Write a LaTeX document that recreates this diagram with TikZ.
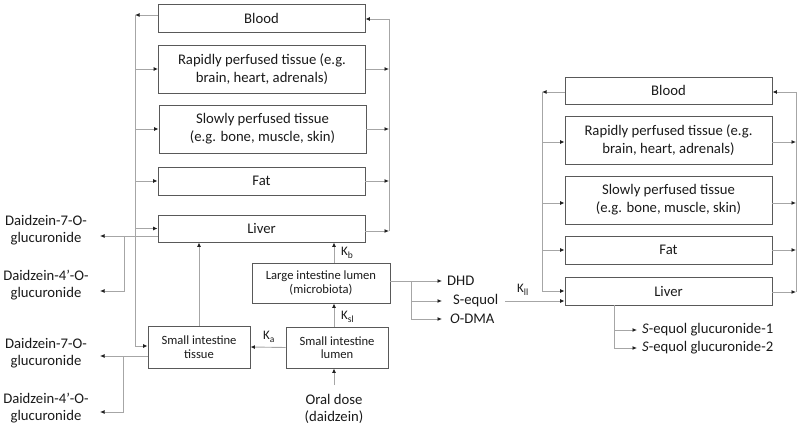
\documentclass[tikz,border=0pt]{standalone}
\usepackage{fontspec}
\setmainfont{Carlito}
\usetikzlibrary{arrows.meta,calc}
\definecolor{boxc}{HTML}{595959}
\definecolor{linec}{HTML}{A6A6A6}
\definecolor{tipc}{HTML}{202020}
\definecolor{txtc}{HTML}{1A1A1A}
\newcommand{\ksubx}[1]{\raisebox{-2.4pt}{\fontsize{9.5}{10}\selectfont #1}}
\begin{document}
\begin{tikzpicture}[x=1pt,y=-1pt,
  box/.style={draw=boxc, line width=0.9pt, minimum width=207pt, align=center, inner sep=0pt, text=txtc, font=\fontsize{14.7}{18}\selectfont},
  sbox/.style={draw=boxc, line width=0.9pt, align=center, inner sep=0pt, text=txtc, font=\fontsize{12.6}{13.5}\selectfont},
  conn/.style={draw=linec, line width=0.9pt},
  arr/.style={conn, -{Latex[length=4.5pt,width=4pt,color=tipc]}},
  lbl/.style={font=\fontsize{14.7}{17}\selectfont, align=center, inner sep=0pt, text=txtc},
  klbl/.style={font=\fontsize{13}{14}\selectfont, inner sep=0pt, anchor=west, text=txtc}
]
\useasboundingbox (0,0) rectangle (800,427);

% left group
\node[box, minimum height=28pt] (blood) at (261.5,18) {Blood};
\node[box, minimum height=48pt] (rapid) at (262,69) {Rapidly perfused tissue (e.g.\\brain, heart, adrenals)};
\node[box, minimum height=48pt] (slow) at (262.5,129) {Slowly perfused tissue\\(e.g. bone, muscle, skin)};
\node[box, minimum height=28pt] (fat) at (261.5,181) {Fat};
\node[box, minimum height=27pt] (liver) at (261.5,228.5) {Liver};

% right group
\node[box, minimum height=27pt] (blood2) at (668.5,90.5) {Blood};
\node[box, minimum height=48pt] (rapid2) at (668.5,140) {Rapidly perfused tissue (e.g.\\brain, heart, adrenals)};
\node[box, minimum height=48pt] (slow2) at (668.5,200) {Slowly perfused tissue\\(e.g. bone, muscle, skin)};
\node[box, minimum height=28pt] (fat2) at (668.5,250) {Fat};
\node[box, minimum height=28pt] (liver2) at (668.5,291) {Liver};

% intestine
\node[sbox, minimum width=102pt, minimum height=42pt] (sit) at (199,347) {Small intestine\\tissue};
\node[sbox, minimum width=138pt, minimum height=40pt] (lil) at (321,283) {Large intestine lumen\\(microbiota)};
\node[sbox, minimum width=102pt, minimum height=41pt] (sil) at (337,347.5) {Small intestine\\lumen};
\node[lbl] (oral) at (334,409) {Oral dose\\(daidzein)};

% metabolite texts
\node[lbl] (d1) at (46,230.5) {Daidzein-7-O-\\glucuronide};
\node[lbl] (d2) at (46,285.5) {Daidzein-4’-O-\\glucuronide};
\node[lbl] (d3) at (46,353.5) {Daidzein-7-O-\\glucuronide};
\node[lbl] (d4) at (46,408.5) {Daidzein-4’-O-\\glucuronide};
\node[lbl, anchor=west] (dhd) at (447,281) {DHD};
\node[lbl, anchor=west] (seq) at (453,301) {S-equol};
\node[lbl, anchor=west] (odma) at (450,319) {\textit{O}-DMA};
\node[lbl, anchor=west] (g1) at (642,330) {\textit{S}-equol glucuronide-1};
\node[lbl, anchor=west] (g2) at (642,348) {\textit{S}-equol glucuronide-2};

% rate labels
\node[klbl] (kb) at (341,253) {K\ksubx{b}};
\node[klbl] (ksl) at (341,317) {K\ksubx{sl}};
\node[klbl] (ka) at (263,337) {K\ksubx{a}};
\node[klbl] (kll) at (517,290) {K\ksubx{ll}};

% left buses
\coordinate (lbTop) at (135,15);
\coordinate (lbBot) at (135,346);
\coordinate (rbTop) at (389,19);
\coordinate (rbBot) at (389,231);
\draw[arr] (blood.west |- lbTop) -- (lbTop);
\draw[conn] (lbTop) -- (lbBot);
\draw[arr] (lbBot) -- (sit.west |- lbBot);
\draw[arr] (lbTop |- rapid.west) -- (rapid.west);
\draw[arr] (lbTop |- slow.west) -- (slow.west);
\draw[arr] (lbTop |- fat.west) -- (fat.west);
\draw[arr] (lbTop |- liver.west) -- (liver.west);
\draw[arr] (rbTop) -- (blood.east |- rbTop);
\draw[conn] (rbTop) -- (rbBot);
\draw[arr] (rapid.east) -- (rapid.east -| rbTop);
\draw[arr] (slow.east) -- (slow.east -| rbTop);
\draw[arr] (fat.east) -- (fat.east -| rbTop);
\draw[arr] (liver.east |- rbBot) -- (rbBot);

% liver and tissue outputs
\coordinate (t1) at (100,236);
\coordinate (j1) at (124,236);
\coordinate (t2) at (100,291);
\coordinate (t3) at (100,356);
\coordinate (j3) at (123,356);
\coordinate (t4) at (100,412);
\draw[arr] ([yshift=-7.5pt]liver.west) -- (t1);
\draw[arr] (j1) |- (t2);
\draw[arr] ([yshift=-9pt]sit.west) -- (t3);
\draw[arr] (j3) |- (t4);
\draw[arr] (sit.north) -- (liver.south -| sit.north);

% intestine flows
\coordinate (os) at (334,385);
\draw[arr] (os) -- (sil.south -| os);
\draw[arr] (sil.north -| os) -- (lil.south -| os);
\draw[arr] (lil.north -| os) -- (liver.south -| os);
\draw[arr] (sil.west) -- (sit.east);
\coordinate (j5) at (411,281);
\draw[arr] ([yshift=2pt]lil.east) -- ([xshift=-5pt]dhd.west);
\draw[arr] (j5 |- seq.west) -- ([xshift=-11pt]seq.west);
\draw[arr] (j5) |- ([xshift=-8pt]odma.west);
\draw[arr] ([xshift=7pt]seq.east) -- ([yshift=-10pt]liver2.west);

% right buses
\coordinate (lb2t) at (542,92);
\coordinate (lb2b) at (542,291);
\coordinate (rb2t) at (796,92);
\coordinate (rb2b) at (796,292);
\coordinate (r2w) at ([yshift=-2pt]rapid2.west);
\coordinate (s2w) at ([yshift=-3pt]slow2.west);
\coordinate (r2e) at ([yshift=-2pt]rapid2.east);
\coordinate (s2e) at ([yshift=-3pt]slow2.east);
\draw[arr] (blood2.west |- lb2t) -- (lb2t);
\draw[conn] (lb2t) -- (lb2b);
\draw[arr] (lb2t |- r2w) -- (r2w);
\draw[arr] (lb2t |- s2w) -- (s2w);
\draw[arr] (lb2t |- fat2.west) -- (fat2.west);
\draw[arr] (lb2b) -- (liver2.west |- lb2b);
\draw[arr] (rb2t) -- (blood2.east |- rb2t);
\draw[conn] (rb2t) -- (rb2b);
\draw[arr] (r2e) -- (r2e -| rb2t);
\draw[arr] (s2e) -- (s2e -| rb2t);
\draw[arr] (fat2.east) -- (fat2.east -| rb2t);
\draw[arr] (liver2.east |- rb2b) -- (rb2b);

% glucuronide outputs
\coordinate (gx) at ([xshift=-54.5pt]liver2.south);
\draw[arr] (gx) |- ([xshift=-5pt]g2.west);
\draw[arr] (gx |- g1.west) -- ([xshift=-5pt]g1.west);
\end{tikzpicture}
\end{document}
